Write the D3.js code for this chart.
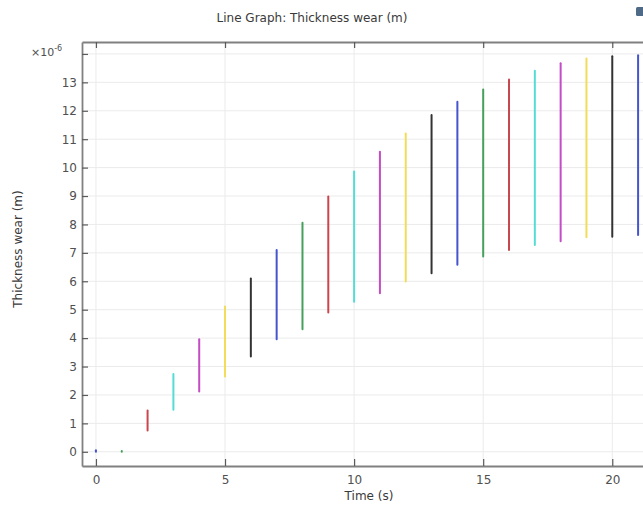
<!DOCTYPE html>
<html>
<head>
<meta charset="utf-8">
<script src="https://cdn.jsdelivr.net/npm/d3@7"></script>
<style>
  html, body { margin: 0; padding: 0; background: #fff; }
  svg { display: block; font-family: "DejaVu Sans", sans-serif; }
</style>
</head>
<body>
<svg id="chart" width="643" height="505"></svg>
<script>
// Wear thickness (×1e-6 m) over time: each time step spans the min..max across the boundary
const times   = [0, 1, 2, 3, 4, 5, 6, 7, 8, 9, 10, 11, 12, 13, 14, 15, 16, 17, 18, 19, 20, 21];
const wearMin = [0, 0, 0.75, 1.48, 2.12, 2.65, 3.35, 3.96, 4.31, 4.9, 5.28, 5.58, 5.99, 6.28, 6.58, 6.87, 7.1, 7.28, 7.41, 7.55, 7.57, 7.63];
const wearMax = [0.05, 0.03, 1.45, 2.74, 3.96, 5.11, 6.1, 7.1, 8.06, 8.98, 9.86, 10.56, 11.2, 11.85, 12.32, 12.75, 13.1, 13.41, 13.67, 13.84, 13.92, 13.95];
const lineColors = ["#4455cf", "#45a05c", "#c9464f", "#55dcd4", "#c44cc4", "#f2dc5a", "#333333"];
const xTicks = [0, 5, 10, 15, 20];
const yTicks = [0, 1, 2, 3, 4, 5, 6, 7, 8, 9, 10, 11, 12, 13, 14];
const yTickLabels = ["0", "1", "2", "3", "4", "5", "6", "7", "8", "9", "10", "11", "12", "13", ""];

const svg = d3.select("#chart");
const plotLeft = 82, plotRight = 651, plotTop = 42, plotBottom = 466;

const x = d3.scaleLinear().domain([-0.54, 21.5]).range([plotLeft, plotRight]);
const y = d3.scaleLinear().domain([-0.5, 14.42]).range([plotBottom, plotTop]);

const axisColor = "#808080";
const textColor = "#505050";
const fontSize = 12;

// grid
const grid = svg.append("g");
grid.selectAll("line.gy").data(yTicks).join("line")
  .attr("x1", plotLeft).attr("x2", plotRight)
  .attr("y1", d => y(d)).attr("y2", d => y(d))
  .attr("stroke", "#ebebeb").attr("stroke-width", 1);
grid.selectAll("line.gx").data(xTicks).join("line")
  .attr("y1", plotTop).attr("y2", plotBottom)
  .attr("x1", d => x(d)).attr("x2", d => x(d))
  .attr("stroke", "#ebebeb").attr("stroke-width", 1);

// data segments
svg.append("g").selectAll("line").data(times).join("line")
  .attr("x1", d => x(d)).attr("x2", d => x(d))
  .attr("y1", (d, i) => y(wearMin[i])).attr("y2", (d, i) => y(wearMax[i]))
  .attr("stroke", (d, i) => lineColors[i % lineColors.length])
  .attr("stroke-width", 2)
  .attr("stroke-linecap", "round");

// axes (ticks drawn inward)
const yAxis = d3.axisLeft(y).tickValues(yTicks).tickFormat((d, i) => yTickLabels[i])
  .tickSizeInner(-6).tickSizeOuter(0).tickPadding(5);
const gy = svg.append("g").attr("transform", `translate(${plotLeft},0)`).call(yAxis);

const xAxis = d3.axisBottom(x).tickValues(xTicks).tickFormat(d3.format("d"))
  .tickSizeInner(-7).tickSizeOuter(0).tickPadding(9);
const gx = svg.append("g").attr("transform", `translate(0,${plotBottom})`).call(xAxis);

const xTop = d3.axisTop(x).tickValues(xTicks).tickFormat("")
  .tickSizeInner(-6).tickSizeOuter(0);
const gt = svg.append("g").attr("transform", `translate(0,${plotTop})`).call(xTop);

[gy, gx, gt].forEach(g => {
  g.select(".domain").attr("stroke", axisColor).attr("stroke-width", 1.8);
  g.selectAll(".tick line").attr("stroke", "#5a5a5a").attr("stroke-width", 1.2);
  g.selectAll(".tick text").attr("fill", textColor).attr("font-size", fontSize)
    .attr("font-family", "DejaVu Sans, sans-serif");
});

// multiplier
const mult = svg.append("text").attr("x", 31).attr("y", 56)
  .attr("fill", textColor).attr("font-size", 11);
mult.append("tspan").text("×10");
mult.append("tspan").attr("dy", -5).attr("font-size", 8).text("-6");

// title and axis titles
svg.append("text").attr("x", 312).attr("y", 22).attr("text-anchor", "middle")
  .attr("fill", "#3a3a3a").attr("font-size", fontSize).text("Line Graph: Thickness wear (m)");
svg.append("text").attr("x", 369).attr("y", 500).attr("text-anchor", "middle")
  .attr("fill", "#3a3a3a").attr("font-size", fontSize).text("Time (s)");
svg.append("text").attr("transform", "translate(22,249) rotate(-90)").attr("text-anchor", "middle")
  .attr("fill", "#3a3a3a").attr("font-size", fontSize).text("Thickness wear (m)");

// small toolbar icon at the top-right corner
svg.append("rect").attr("x", 636).attr("y", 7).attr("width", 10).attr("height", 9)
  .attr("rx", 1.5).attr("fill", "#4f6a86");
</script>
</body>
</html>
